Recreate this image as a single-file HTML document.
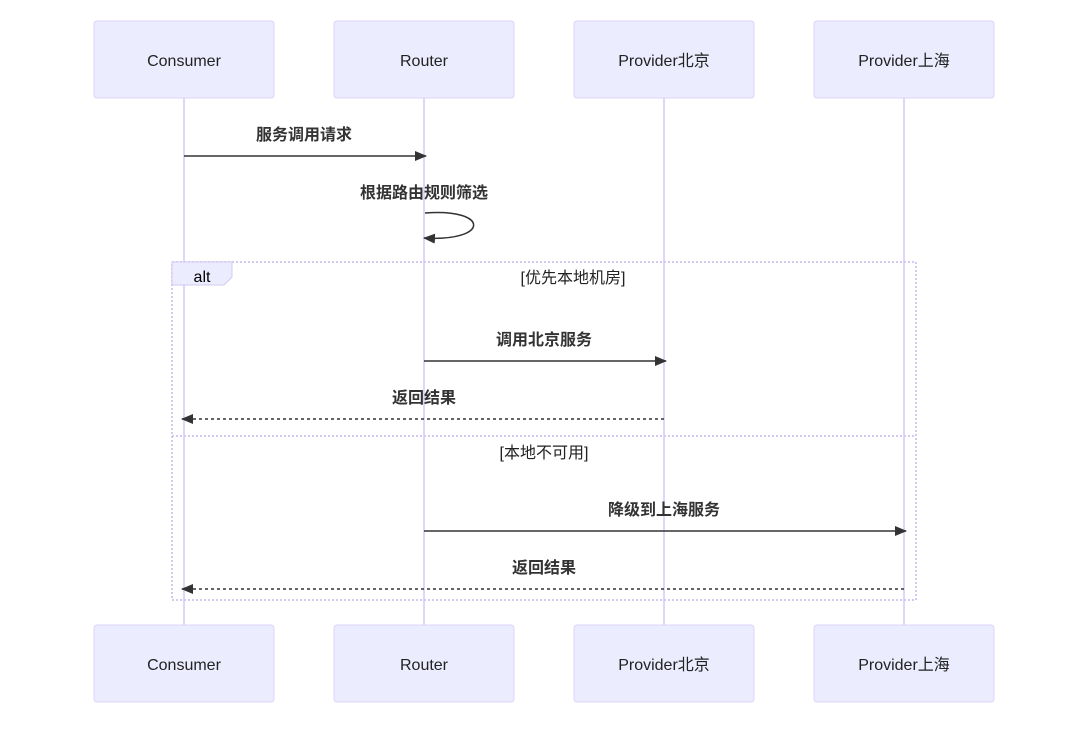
<!DOCTYPE html>
<html><head><meta charset="utf-8"><style>
html,body{margin:0;padding:0;background:#fff;}
svg text{font-family:"Liberation Sans","Noto Sans CJK SC",sans-serif;}
</style></head><body>
<svg width="1075" height="727" viewBox="0 0 1075 727" xmlns="http://www.w3.org/2000/svg">
<defs>
<marker id="ah" markerWidth="12" markerHeight="12" refX="11" refY="6" orient="auto" markerUnits="userSpaceOnUse">
<path d="M0,1 L12,6 L0,11 z" fill="#333"/></marker>
</defs>
<g stroke="#e0d6fa" stroke-width="2">
<line x1="184" y1="98" x2="184" y2="625"/>
<line x1="424" y1="98" x2="424" y2="625"/>
<line x1="664" y1="98" x2="664" y2="625"/>
<line x1="904" y1="98" x2="904" y2="625"/>
</g>
<g fill="#ECECFF" stroke="#dcd3f7" stroke-width="1">
<rect x="94" y="21" width="180" height="77" rx="3"/>
<rect x="334" y="21" width="180" height="77" rx="3"/>
<rect x="574" y="21" width="180" height="77" rx="3"/>
<rect x="814" y="21" width="180" height="77" rx="3"/>
<rect x="94" y="625" width="180" height="77" rx="3"/>
<rect x="334" y="625" width="180" height="77" rx="3"/>
<rect x="574" y="625" width="180" height="77" rx="3"/>
<rect x="814" y="625" width="180" height="77" rx="3"/>
</g>
<g font-size="16" fill="#222" text-anchor="middle">
<text x="184" y="66">Consumer</text>
<text x="424" y="66">Router</text>
<text x="664" y="66">Provider北京</text>
<text x="904" y="66">Provider上海</text>
<text x="184" y="670">Consumer</text>
<text x="424" y="670">Router</text>
<text x="664" y="670">Provider北京</text>
<text x="904" y="670">Provider上海</text>
</g>
<g fill="none" stroke="#d4c9f2" stroke-width="2" stroke-dasharray="2,2">
<rect x="172" y="262" width="744" height="338"/>
<line x1="172" y1="436" x2="916" y2="436"/>
</g>
<path d="M172,262 H232 V277 L224,285 H172 z" fill="#ECECFF" stroke="#d4c9f2"/>
<text x="202" y="282" font-size="16" fill="#000" text-anchor="middle">alt</text>
<text x="573" y="283" font-size="16" fill="#222" text-anchor="middle">[优先本地机房]</text>
<text x="544" y="458" font-size="16" fill="#222" text-anchor="middle">[本地不可用]</text>
<g font-size="16" font-weight="bold" fill="#333" text-anchor="middle">
<text x="304" y="140">服务调用请求</text>
<text x="424" y="198">根据路由规则筛选</text>
<text x="544" y="345">调用北京服务</text>
<text x="424" y="403">返回结果</text>
<text x="664" y="515">降级到上海服务</text>
<text x="544" y="573">返回结果</text>
</g>
<g stroke="#333" stroke-width="1.5" fill="none">
<line x1="184" y1="156" x2="426" y2="156" marker-end="url(#ah)"/>
<path d="M425,213 C490,208 490,242 424,238" marker-end="url(#ah)"/>
<line x1="424" y1="361" x2="666" y2="361" marker-end="url(#ah)"/>
<line x1="664" y1="419" x2="182" y2="419" stroke-dasharray="3,3" marker-end="url(#ah)"/>
<line x1="424" y1="531" x2="906" y2="531" marker-end="url(#ah)"/>
<line x1="904" y1="589" x2="182" y2="589" stroke-dasharray="3,3" marker-end="url(#ah)"/>
</g>
</svg>
</body></html>
